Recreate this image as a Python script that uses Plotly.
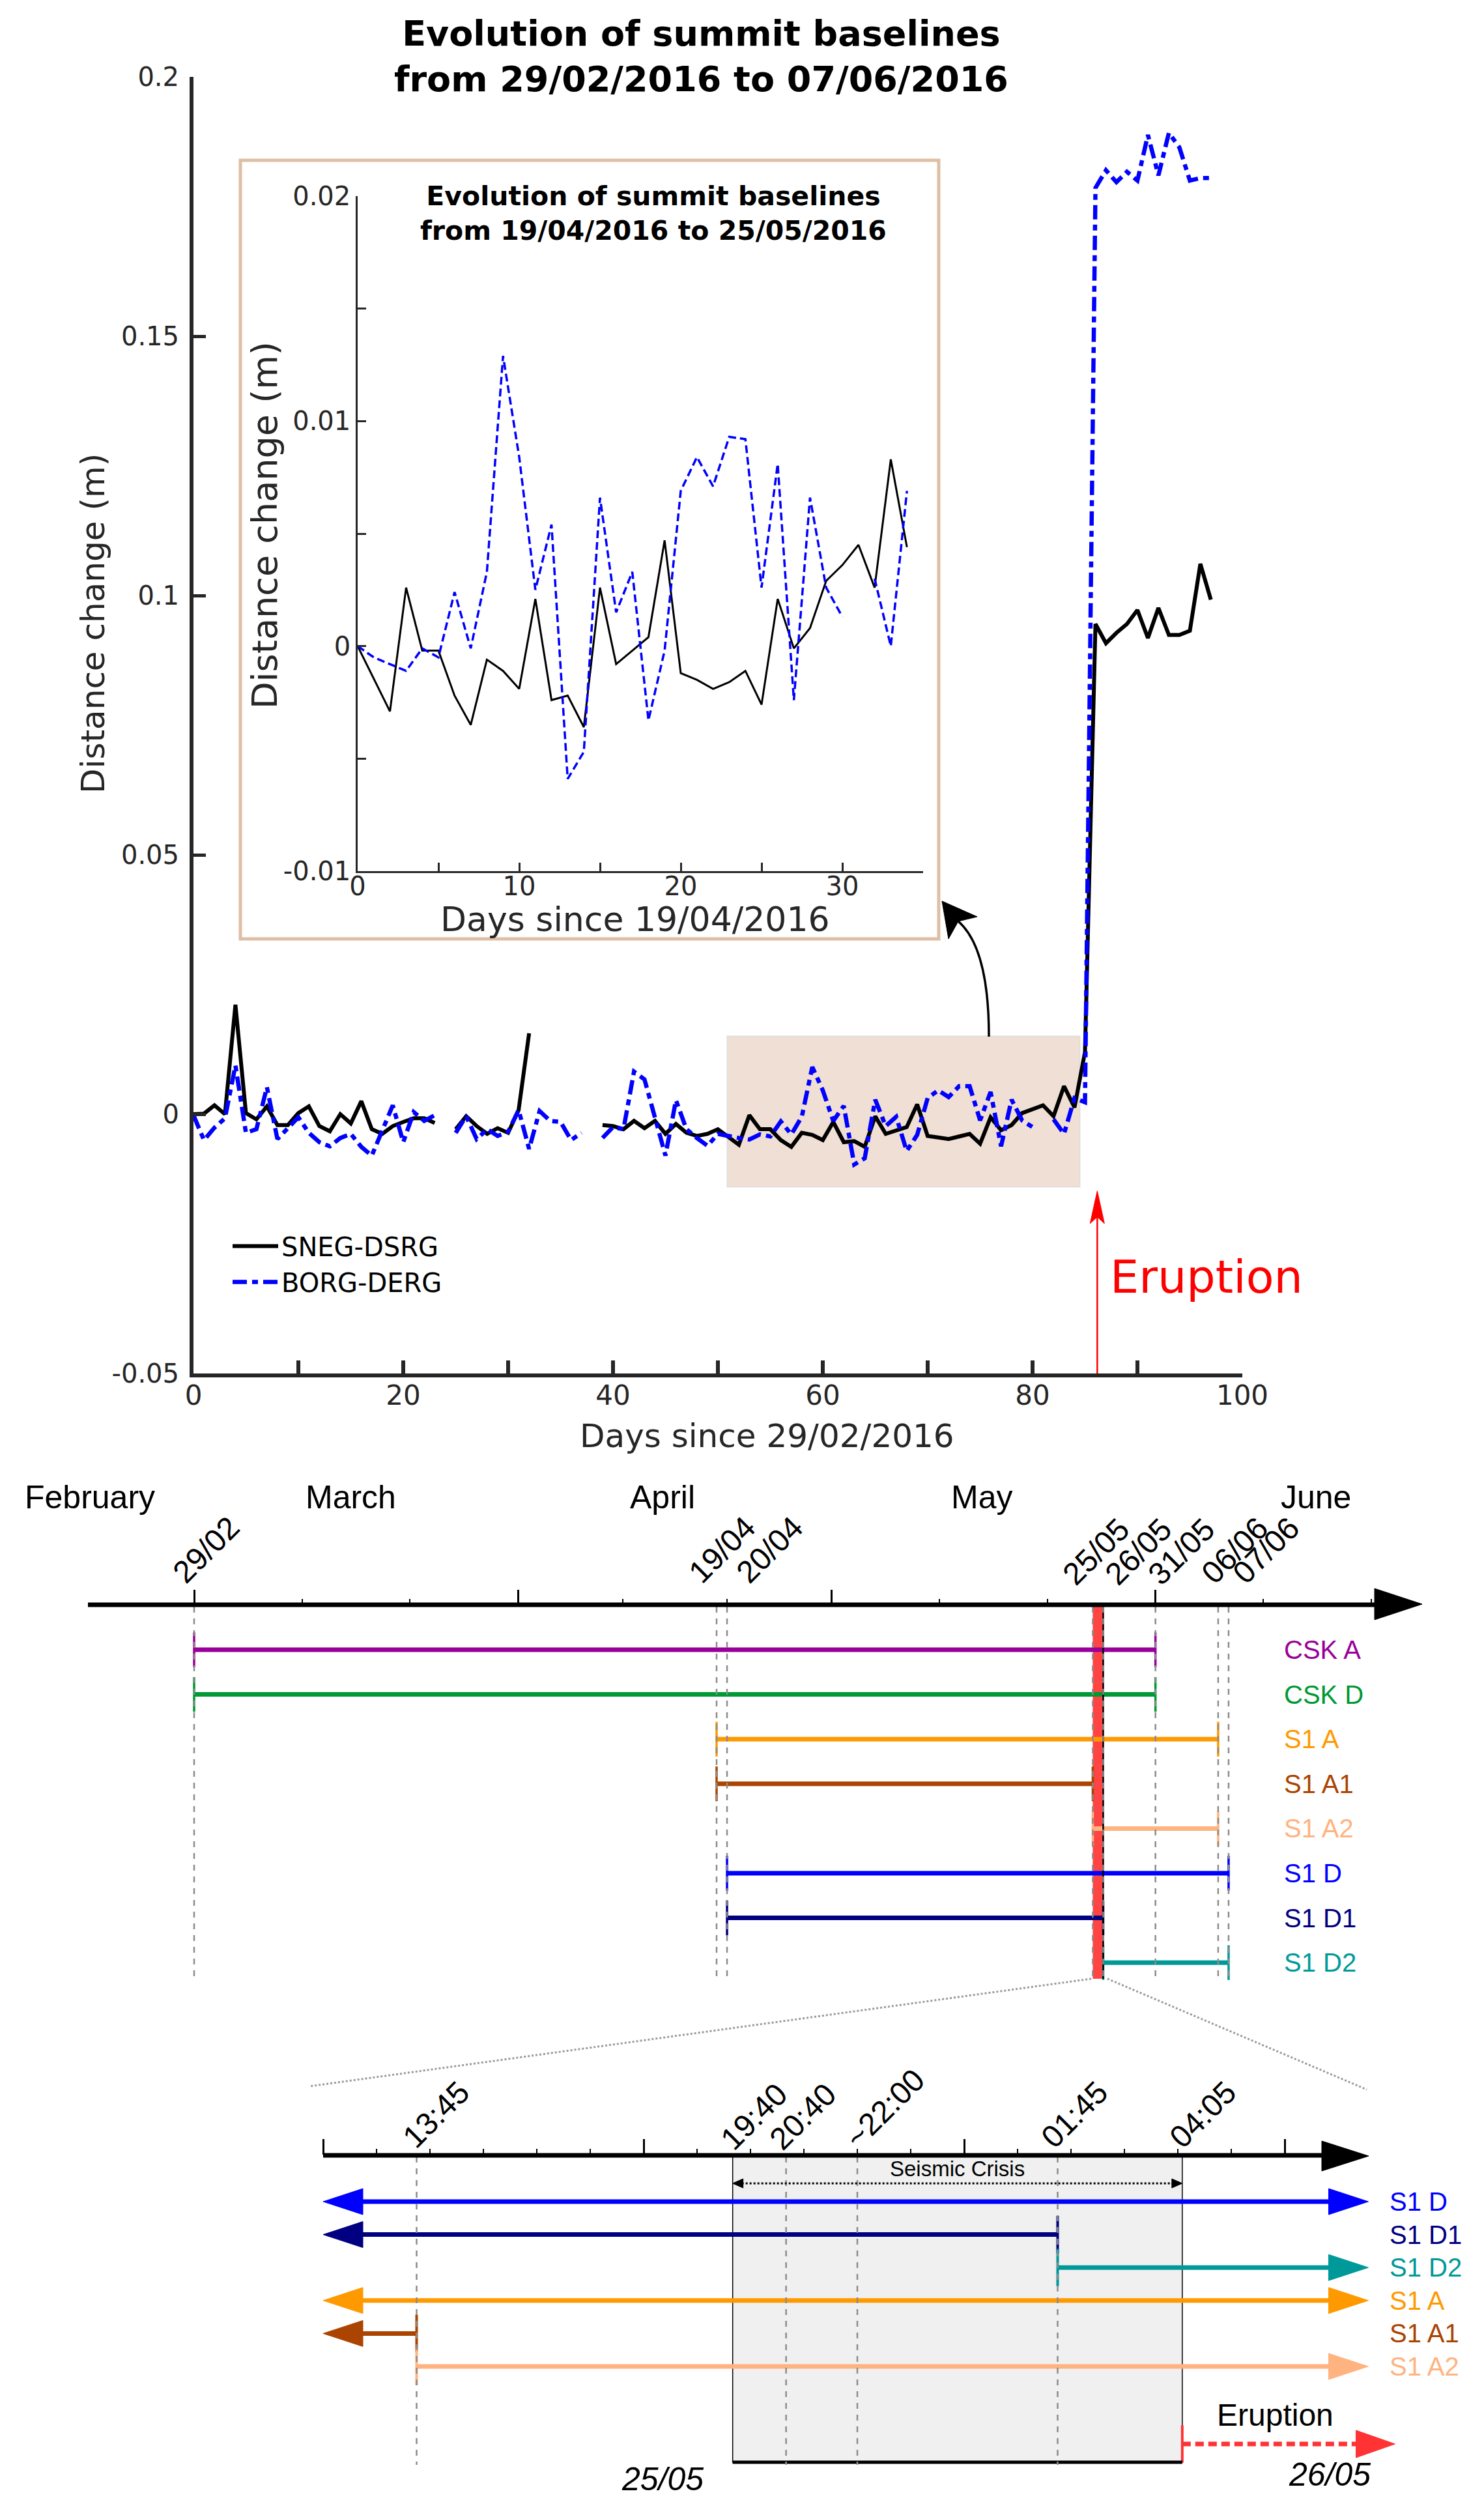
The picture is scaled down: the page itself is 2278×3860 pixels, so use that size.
import plotly.graph_objects as go
import pandas as pd

W, H = 2278, 3860
def px(x): return x / W
def py(y): return 1 - y / H

# ======================= DATA =======================
# Main chart: days since 29/02/2016, baseline change (m)
sneg_day = list(range(0, 34)) + list(range(39, 51)) + list(range(52, 98))
sneg_val = [0.0, 0.0001, 0.0017, 0.0, 0.0211, 0.0002, -0.0010, 0.0015, -0.0021, -0.0021,
            0.0002, 0.0015, -0.0023, -0.0033, 0.0, -0.0018, 0.0025, -0.0029, -0.0038, -0.0023,
            -0.0015, -0.0008, -0.0008, -0.0017, None, -0.0029, -0.0004, -0.0023, -0.0038, -0.0027,
            -0.0036, 0.0008, 0.0156, None,
            -0.0021, -0.0023, -0.0029, -0.0013, -0.0027, -0.0013, -0.0038, -0.0019, -0.0036, -0.0042,
            -0.0038, -0.0029,
            -0.0059, -0.0002, -0.0029, -0.0029, -0.0050, -0.0063, -0.0036, -0.0040, -0.0050, -0.0015,
            -0.0054, -0.0052, -0.0063, -0.0004, -0.0038, -0.0031, -0.0025, 0.0019, -0.0042, -0.0045,
            -0.0048, -0.0043, -0.0038, -0.0057, -0.0006, -0.0031, -0.0021, 0.0002, 0.0009, 0.0017,
            -0.0004, 0.0054, 0.0013, 0.0120, 0.0945, 0.0908, 0.0928, 0.0945, 0.0972, 0.0918,
            0.0976, 0.0924, 0.0924, 0.0932, 0.1061, 0.0992]

borg_day = list(range(0, 98))
borg_val = [-0.0002, -0.0050, -0.0026, -0.0008, 0.0094, -0.0036, -0.0029, 0.0052, -0.0048, -0.0028,
            -0.0006, -0.0036, -0.0054, -0.0062, -0.0046, -0.0038, -0.0063, -0.0080, -0.0029, 0.0017,
            -0.0054, 0.0004, -0.0013, -0.0002, None, -0.0036, -0.0004, -0.0048, -0.0029, -0.0042,
            -0.0034, 0.0008, -0.0067, 0.0006, -0.0013, -0.0015, -0.0050, -0.0036, None, -0.0046,
            -0.0025, -0.0029, 0.0082, 0.0067, -0.0008, -0.0080, 0.0027, -0.0029, -0.0046, -0.0061,
            -0.0038, -0.0043, -0.0046, -0.0049, -0.0039, -0.0043, -0.0014, -0.0039, -0.0005, 0.0091,
            0.0046, -0.0013, 0.0016, -0.0097, -0.0085, 0.0028, -0.0023, -0.0005, -0.0071, -0.0040,
            0.0031, 0.0046, 0.0033, 0.0054, 0.0054, -0.0012, 0.0043, -0.0062, 0.0028, -0.0012,
            -0.0025, None, -0.0010, -0.0038, 0.0031, 0.0023, 0.1786, 0.1820, 0.1797, 0.1817,
            0.1800, 0.1888, 0.1810, 0.1892, 0.1864, 0.1800, 0.1805, 0.1805]

# Inset: days since 19/04/2016
in_sneg_day = [0] + list(range(2, 35))
in_sneg_val = [0.0, -0.0029, 0.0026, -0.0002, -0.0002, -0.0022, -0.0035, -0.0006, -0.0011, -0.0019,
               0.0021, -0.0024, -0.0022, -0.0036, 0.0026, -0.0008, -0.0002, 0.0004, 0.0047, -0.0012,
               -0.0015, -0.0019, -0.0016, -0.0011, -0.0026, 0.0021, -0.0001, 0.0008, 0.0029, 0.0036,
               0.0045, 0.0026, 0.0083, 0.0044]
in_borg_day = list(range(0, 35))
in_borg_val = [0.0, -0.0005, -0.0008, -0.0011, -0.0001, -0.0005, 0.0024, -0.0001, 0.0033, 0.0129,
               0.0084, 0.0025, 0.0054, -0.0059, -0.0047, 0.0066, 0.0015, 0.0033, -0.0033, -0.0002,
               0.0069, 0.0084, 0.0071, 0.0093, 0.0092, 0.0026, 0.0081, -0.0024, 0.0066, 0.0026,
               0.0013, None, 0.0030, 0.0000, 0.0069]

main_xticks = [0, 20, 40, 60, 80, 100]
main_yticks = [-0.05, 0, 0.05, 0.1, 0.15, 0.2]
main_ytext = ['-0.05', '0', '0.05', '0.1', '0.15', '0.2']
inset_xticks = [0, 10, 20, 30]
inset_yticks = [-0.01, 0, 0.01, 0.02]
inset_ytext = ['-0.01', '0', '0.01', '0.02']
eruption_day = 86.17

# Timeline of acquisitions
ORIGIN = pd.Timestamp('2016-02-29')
months = ['February', 'March', 'April', 'May', 'June']
month_ends = ['2016-02-29', '2016-03-31', '2016-04-30', '2016-05-31']
marker_dates = ['2016-02-29', '2016-04-19', '2016-04-20', '2016-05-25', '2016-05-26',
                '2016-05-31', '2016-06-06', '2016-06-07']
tl_names = ['CSK A', 'CSK D', 'S1 A', 'S1 A1', 'S1 A2', 'S1 D', 'S1 D1', 'S1 D2']
tl_start = ['2016-02-29', '2016-02-29', '2016-04-19', '2016-04-19', '2016-05-25',
            '2016-04-20', '2016-04-20', '2016-05-26']
tl_end = ['2016-05-31', '2016-05-31', '2016-06-06', '2016-05-25', '2016-06-06',
          '2016-06-07', '2016-05-26', '2016-06-07']
tl_colors = ['#990099', '#009933', '#FF9900', '#AA4400', '#FFB380', '#0000FF', '#000080', '#00999A']
eruption_window = ['2016-05-25', '2016-05-26']

# Detail of 25-26/05
det_names = ['S1 D', 'S1 D1', 'S1 D2', 'S1 A', 'S1 A1', 'S1 A2']
det_colors = ['#0000FF', '#000080', '#00999A', '#FF9900', '#AA4400', '#FFB380']
WIN_START, WIN_END = '2016-05-25 12:00', '2016-05-26 07:34'
det_start = [WIN_START, WIN_START, '2016-05-26 01:45', WIN_START, WIN_START, '2016-05-25 13:45']
det_end = [WIN_END, '2016-05-26 01:45', WIN_END, WIN_END, '2016-05-25 13:45', WIN_END]
det_start_kind = ['arrow', 'arrow', 'cap', 'arrow', 'arrow', 'cap']
det_end_kind = ['arrow', 'cap', 'arrow', 'arrow', 'cap', 'arrow']
det_times = ['2016-05-25 13:45', '2016-05-25 19:40', '2016-05-25 20:40', '2016-05-25 22:00',
             '2016-05-26 01:45', '2016-05-26 04:05']
det_time_labels = ['13:45', '19:40', '20:40', '~22:00', '01:45', '04:05']
crisis = ['2016-05-25 19:40', '2016-05-26 04:05']
erupt_start, erupt_tip = '2016-05-26 04:05', '2016-05-26 08:04'

# ======================= STYLE / LAYOUT CONSTANTS =======================
AX = '#262626'
F1 = 'DejaVu Sans'
F2 = 'Liberation Sans'
TL_X0, TL_PPD = 298, 16.04          # timeline: pixel of 29/02 and pixels per day
D_X0, D_PPH = 496, 82.0             # detail: pixel of 12:00 and pixels per hour
D_T0 = pd.Timestamp('2016-05-25 12:00')
def tl_row(p): return (p - 2532) / 68.6
def d_row(p): return (p - 3379) / 50.6

def dday(s): return (pd.Timestamp(s) - ORIGIN).total_seconds() / 86400.0

def A(**kw):
    d = dict(showarrow=False, xanchor='center', yanchor='middle')
    d.update(kw)
    return d

fig = go.Figure()

# ---------------- main traces ----------------
fig.add_trace(go.Scatter(x=sneg_day, y=sneg_val, mode='lines', name='SNEG-DSRG',
                         line=dict(color='black', width=6), xaxis='x', yaxis='y'))
fig.add_trace(go.Scatter(x=borg_day, y=borg_val, mode='lines', name='BORG-DERG',
                         line=dict(color='#0000FF', width=6.5, dash='22px,8px,9px,8px'),
                         xaxis='x', yaxis='y'))
# ---------------- inset traces ----------------
fig.add_trace(go.Scatter(x=in_sneg_day, y=in_sneg_val, mode='lines', showlegend=False,
                         line=dict(color='black', width=3), xaxis='x2', yaxis='y2'))
fig.add_trace(go.Scatter(x=in_borg_day, y=in_borg_val, mode='lines', showlegend=False,
                         line=dict(color='#0000FF', width=3.5, dash='12px,6px'),
                         xaxis='x2', yaxis='y2'))

shapes = []
ann = []

# main shaded window and inset box
shapes.append(dict(type='rect', xref='x', yref='y', x0=50.9, x1=84.5, y0=-0.014, y1=0.015,
                   fillcolor='rgb(240,223,212)', line=dict(color='rgb(226,222,218)', width=2),
                   layer='below'))
shapes.append(dict(type='rect', xref='paper', yref='paper', x0=px(369), x1=px(1441),
                   y0=py(1441), y1=py(246), fillcolor='white',
                   line=dict(color='rgb(222,190,164)', width=5), layer='below'))
# curved arrow from window to inset
shapes.append(dict(type='path', xref='paper', yref='paper',
                   path=f'M{px(1518)},{py(1591)} Q{px(1518)},{py(1455)} {px(1471)},{py(1414)}',
                   line=dict(color='black', width=3.5)))
head_pts = [(1446, 1383), (1500, 1407), (1471, 1414), (1456, 1441)]
shapes.append(dict(type='path', xref='paper', yref='paper',
                   path='M' + ' L'.join(f'{px(a)},{py(b)}' for a, b in head_pts) + ' Z',
                   fillcolor='black', line=dict(color='black', width=1)))
# eruption arrow main
shapes.append(dict(type='line', xref='x', yref='y', x0=eruption_day, x1=eruption_day,
                   y0=-0.05, y1=-0.019, line=dict(color='#FF0000', width=2.5)))
shapes.append(dict(type='path', xref='x', yref='y', xsizemode='pixel', ysizemode='pixel',
                   xanchor=eruption_day, yanchor=-0.0148,
                   path='M0,0 L-11,-50 L0,-40 L11,-50 Z', fillcolor='#FF0000',
                   line=dict(color='#FF0000', width=1)))

ann.append(A(xref='paper', yref='paper', x=px(1076), y=py(86),
             text='<b>Evolution of summit baselines<br>from 29/02/2016 to 07/06/2016</b>',
             font=dict(family=F1, size=54, color='black')))
ann.append(A(xref='paper', yref='paper', x=px(143), y=py(957), textangle=-90,
             text='Distance change (m)', font=dict(family=F1, size=50, color=AX)))
ann.append(A(xref='paper', yref='paper', x=px(1177), y=py(2204),
             text='Days since 29/02/2016', font=dict(family=F1, size=50, color=AX)))
ann.append(A(xref='paper', yref='paper', x=px(1003), y=py(328),
             text='<b>Evolution of summit baselines<br>from 19/04/2016 to 25/05/2016</b>',
             font=dict(family=F1, size=41, color='black')))
ann.append(A(xref='paper', yref='paper', x=px(406), y=py(806), textangle=-90,
             text='Distance change (m)', font=dict(family=F1, size=54, color=AX)))
ann.append(A(xref='paper', yref='paper', x=px(975), y=py(1411),
             text='Days since 19/04/2016', font=dict(family=F1, size=52, color=AX)))
ann.append(A(xref='paper', yref='paper', x=px(1702), y=py(1960), xanchor='left',
             text='Eruption', font=dict(family=F1, size=70, color='#FF0000')))

# ---------------- timeline ----------------
for i, (n, s, e, c) in enumerate(zip(tl_names, tl_start, tl_end, tl_colors)):
    fig.add_trace(go.Scatter(x=[dday(s), dday(e)], y=[i, i], mode='lines+markers',
                             showlegend=False, xaxis='x3', yaxis='y3',
                             line=dict(color=c, width=7),
                             marker=dict(symbol='line-ns', size=38, line=dict(color=c, width=3.5))))
    ann.append(A(xref='paper', yref='y3', x=px(1969), y=i, xanchor='left',
                 text=n, font=dict(family=F2, size=40, color=c)))

shapes.append(dict(type='rect', xref='x3', yref='y3', x0=dday(eruption_window[0]),
                   x1=dday(eruption_window[1]), y0=tl_row(2466), y1=tl_row(3037),
                   fillcolor='#FF4444', line=dict(width=0), layer='below'))
shapes.append(dict(type='line', xref='x3', yref='y3', x0=dday(eruption_window[1]),
                   x1=dday(eruption_window[1]), y0=tl_row(2466), y1=tl_row(3037),
                   line=dict(color='black', width=2.5)))
for d in marker_dates:
    shapes.append(dict(type='line', xref='x3', yref='y3', x0=dday(d), x1=dday(d),
                       y0=tl_row(2466), y1=tl_row(3037),
                       line=dict(color='#8C8C8C', width=2.5, dash='dash')))
# time axis line + arrow
shapes.append(dict(type='line', xref='paper', yref='paper', x0=px(135), x1=px(2115),
                   y0=py(2463), y1=py(2463), line=dict(color='black', width=7)))
shapes.append(dict(type='path', xref='paper', yref='paper',
                   path=f'M{px(2183)},{py(2462)} L{px(2110)},{py(2438)} L{px(2110)},{py(2486)} Z',
                   fillcolor='black', line=dict(color='black', width=1)))
month_label_px = [138, 538, 1017, 1507, 2020]
for m, xp in zip(months, month_label_px):
    ann.append(A(xref='paper', yref='paper', x=px(xp), y=py(2298),
                 text=m, font=dict(family=F2, size=50, color='black')))
date_label_px = [(316, 2378), (1108, 2378), (1181, 2378), (1682, 2381), (1747, 2381),
                 (1813, 2381), (1895, 2379), (1943, 2379)]
for d, (xp, yp) in zip(marker_dates, date_label_px):
    ann.append(A(xref='paper', yref='paper', x=px(xp), y=py(yp), textangle=-45,
                 text=pd.Timestamp(d).strftime('%d/%m'),
                 font=dict(family=F2, size=48, color='black')))

# zoom connector lines
shapes.append(dict(type='line', xref='paper', yref='paper', x0=px(1675), y0=py(3037),
                   x1=px(475), y1=py(3202), line=dict(color='#9A9A9A', width=3, dash='dot')))
shapes.append(dict(type='line', xref='paper', yref='paper', x0=px(1700), y0=py(3037),
                   x1=px(2098), y1=py(3207), line=dict(color='#9A9A9A', width=3, dash='dot')))

# ---------------- detail ----------------
HEAD_L, HEAD_H = 61, 20
head_td = pd.Timedelta(hours=HEAD_L / D_PPH)
shapes.append(dict(type='rect', xref='x4', yref='y4', x0=crisis[0], x1=crisis[1],
                   y0=d_row(3308), y1=d_row(3779), fillcolor='#F0F0F0',
                   line=dict(color='black', width=1.5), layer='below'))
shapes.append(dict(type='line', xref='x4', yref='y4', x0=crisis[0], x1=crisis[1],
                   y0=d_row(3779), y1=d_row(3779), line=dict(color='black', width=5)))
for t in det_times:
    if t in crisis:
        continue
    shapes.append(dict(type='line', xref='x4', yref='y4', x0=t, x1=t,
                       y0=d_row(3310), y1=d_row(3783),
                       line=dict(color='#8C8C8C', width=2.5, dash='dash')))
time_label_px = [(669, 3245), (1157, 3248), (1232, 3248), (1358, 3236), (1649, 3245), (1846, 3245)]
for lab, (xp, yp) in zip(det_time_labels, time_label_px):
    ann.append(A(xref='paper', yref='paper', x=px(xp), y=py(yp), textangle=-45,
                 text=lab, font=dict(family=F2, size=48, color='black')))

# seismic crisis double arrow
sc_row = d_row(3351)
c0, c1 = pd.Timestamp(crisis[0]), pd.Timestamp(crisis[1])
small = pd.Timedelta(hours=14 / D_PPH)
shapes.append(dict(type='line', xref='x4', yref='y4', x0=str(c0 + small), x1=str(c1 - small),
                   y0=sc_row, y1=sc_row, line=dict(color='black', width=3, dash='dot')))
for tip, sgn in [(crisis[0], 1), (crisis[1], -1)]:
    shapes.append(dict(type='path', xref='x4', yref='y4', xsizemode='pixel', ysizemode='pixel',
                       xanchor=tip, yanchor=sc_row,
                       path=f'M0,0 L{16*sgn},7 L{16*sgn},-7 Z', fillcolor='black',
                       line=dict(color='black', width=1)))
ann.append(A(xref='paper', yref='paper', x=px(1469), y=py(3328),
             text='Seismic Crisis', font=dict(family=F2, size=33, color='black')))

def head(xref, yref, x, y, sgn, color, L=HEAD_L, hh=HEAD_H):
    # sgn=+1: pointing right, tip at (x,y); sgn=-1: pointing left
    return dict(type='path', xref=xref, yref=yref, xsizemode='pixel', ysizemode='pixel',
                xanchor=x, yanchor=y, path=f'M0,0 L{-L*sgn},{hh} L{-L*sgn},{-hh} Z',
                fillcolor=color, line=dict(color=color, width=1))

for i, (n, c, s, e, ks, ke) in enumerate(zip(det_names, det_colors, det_start, det_end,
                                             det_start_kind, det_end_kind)):
    ts, te = pd.Timestamp(s), pd.Timestamp(e)
    ls = ts + head_td * 0.9 if ks == 'arrow' else ts
    le = te - head_td * 0.9 if ke == 'arrow' else te
    fig.add_trace(go.Scatter(x=[ls, le], y=[i, i], mode='lines', showlegend=False,
                             xaxis='x4', yaxis='y4', line=dict(color=c, width=7)))
    caps = [t for t, k in ((ts, ks), (te, ke)) if k == 'cap']
    if caps:
        fig.add_trace(go.Scatter(x=caps, y=[i] * len(caps), mode='markers', showlegend=False,
                                 xaxis='x4', yaxis='y4',
                                 marker=dict(symbol='line-ns', size=41,
                                             line=dict(color=c, width=4))))
    if ks == 'arrow':
        shapes.append(head('x4', 'y4', s, i, -1, c))
    if ke == 'arrow':
        shapes.append(head('x4', 'y4', e, i, 1, c))
    ann.append(A(xref='paper', yref='y4', x=px(2131), y=i, xanchor='left',
                 text=n, font=dict(family=F2, size=40, color=c)))

# eruption arrow (detail)
er_row = d_row(3751)
fig.add_trace(go.Scatter(x=[pd.Timestamp(erupt_start), pd.Timestamp(erupt_tip) - head_td * 0.9],
                         y=[er_row, er_row], mode='lines', showlegend=False,
                         xaxis='x4', yaxis='y4',
                         line=dict(color='#FF3333', width=7, dash='13px,7px')))
fig.add_trace(go.Scatter(x=[pd.Timestamp(erupt_start)], y=[er_row], mode='markers',
                         showlegend=False, xaxis='x4', yaxis='y4',
                         marker=dict(symbol='line-ns', size=41, line=dict(color='#FF3333', width=4))))
shapes.append(head('x4', 'y4', erupt_tip, er_row, 1, '#FF3333', L=60, hh=21))
ann.append(A(xref='paper', yref='paper', x=px(1957), y=py(3706),
             text='Eruption', font=dict(family=F2, size=48, color='black')))
ann.append(A(xref='paper', yref='paper', x=px(1017), y=py(3805),
             text='<i>25/05</i>', font=dict(family=F2, size=50, color='black')))
ann.append(A(xref='paper', yref='paper', x=px(2041), y=py(3798),
             text='<i>26/05</i>', font=dict(family=F2, size=50, color='black')))

# detail time axis line + arrow
shapes.append(dict(type='line', xref='paper', yref='paper', x0=px(496), x1=px(2035),
                   y0=py(3308), y1=py(3308), line=dict(color='black', width=7)))
shapes.append(dict(type='path', xref='paper', yref='paper',
                   path=f'M{px(2101)},{py(3309)} L{px(2029)},{py(3286)} L{px(2029)},{py(3332)} Z',
                   fillcolor='black', line=dict(color='black', width=1)))

# ---------------- axes ----------------
tl_major = [dday(d) for d in month_ends]
tl_minor = []
for a, b in zip(tl_major[:-1], tl_major[1:]):
    tl_minor += [a + (b - a) / 3, a + 2 * (b - a) / 3]
step = (tl_major[-1] - tl_major[-2]) / 3
tl_minor += [tl_major[-1] + step, tl_major[-1] + 2 * step]

det_major = [D_T0 + pd.Timedelta(hours=h) for h in (0, 6, 12, 18)]
det_minor = [D_T0 + pd.Timedelta(hours=h) for h in range(0, 19) if h % 6]

d_range = [str(D_T0 - pd.Timedelta(hours=D_X0 / D_PPH)),
           str(D_T0 + pd.Timedelta(hours=(W - D_X0) / D_PPH))]

axis_common = dict(showgrid=False, zeroline=False, showline=True, linecolor=AX, ticks='inside',
                   tickcolor=AX, automargin=False)
fig.update_layout(
    width=W, height=H, margin=dict(l=0, r=0, t=0, b=0, pad=0, autoexpand=False), autosize=False,
    paper_bgcolor='white', plot_bgcolor='rgba(0,0,0,0)', hovermode=False,
    font=dict(family=F1, color=AX),
    showlegend=True,
    legend=dict(x=px(352), y=py(1880), xanchor='left', yanchor='top', bgcolor='rgba(0,0,0,0)',
                font=dict(family=F1, size=40, color='black'), itemwidth=70, tracegroupgap=0),
    xaxis=dict(domain=[px(297), px(1907)], range=[0, 100], anchor='y',
               tickmode='array', tickvals=main_xticks, ticklen=20, tickwidth=6, linewidth=6,
               tickfont=dict(family=F1, size=42, color=AX), ticklabelstandoff=-8,
               minor=dict(tickmode='array', tickvals=[10, 30, 50, 70, 90], ticklen=20,
                          tickwidth=6, ticks='inside', tickcolor=AX),
               **axis_common),
    yaxis=dict(domain=[py(2108), py(118)], range=[-0.05, 0.2], anchor='x',
               tickmode='array', tickvals=main_yticks, ticktext=main_ytext, ticklen=19,
               tickwidth=5, linewidth=6, tickfont=dict(family=F1, size=40, color=AX),
               ticklabelstandoff=8,
               **axis_common),
    xaxis2=dict(domain=[px(549), px(1417)], range=[0, 35], anchor='y2',
                tickmode='array', tickvals=inset_xticks, ticklen=13, tickwidth=2.5, linewidth=2.5,
                tickfont=dict(family=F1, size=40, color=AX), ticklabelstandoff=-14,
                minor=dict(tickmode='array', tickvals=[5, 15, 25, 35], ticklen=13, tickwidth=2.5,
                           ticks='inside', tickcolor=AX),
                **axis_common),
    yaxis2=dict(domain=[py(1337), py(301)], range=[-0.01, 0.02], anchor='x2',
                tickmode='array', tickvals=inset_yticks, ticktext=inset_ytext, ticklen=13,
                tickwidth=2.5, linewidth=2.5, tickfont=dict(family=F1, size=40, color=AX),
                minor=dict(tickmode='array', tickvals=[-0.005, 0.005, 0.015], ticklen=13,
                           tickwidth=2.5, ticks='inside', tickcolor=AX),
                **axis_common),
    xaxis3=dict(domain=[0, 1], range=[-TL_X0 / TL_PPD, (W - TL_X0) / TL_PPD], anchor='y3',
                side='top', showgrid=False, zeroline=False, showline=False, automargin=False,
                ticks='outside', tickmode='array', tickvals=tl_major, ticklen=22, tickwidth=2.5,
                tickcolor='black', showticklabels=False,
                minor=dict(tickmode='array', tickvals=tl_minor, ticklen=8, tickwidth=2,
                           ticks='outside', tickcolor='black')),
    yaxis3=dict(domain=[py(3045), py(2463)], range=[tl_row(3045), tl_row(2463)],
                anchor='x3', visible=False),
    xaxis4=dict(type='date', domain=[0, 1], range=d_range, anchor='y4', side='top',
                showgrid=False, zeroline=False, showline=False, ticks='outside', automargin=False,
                tickmode='array', tickvals=det_major, ticklen=24, tickwidth=2.5,
                tickcolor='black', showticklabels=False,
                minor=dict(tickmode='array', tickvals=det_minor, ticklen=9, tickwidth=2,
                           ticks='outside', tickcolor='black')),
    yaxis4=dict(domain=[py(3800), py(3308)], range=[d_row(3800), d_row(3308)],
                anchor='x4', visible=False),
    shapes=shapes, annotations=ann,
)

fig.write_html("out.html", config={'displayModeBar': False},
               post_script="document.body.style.margin='0';")
